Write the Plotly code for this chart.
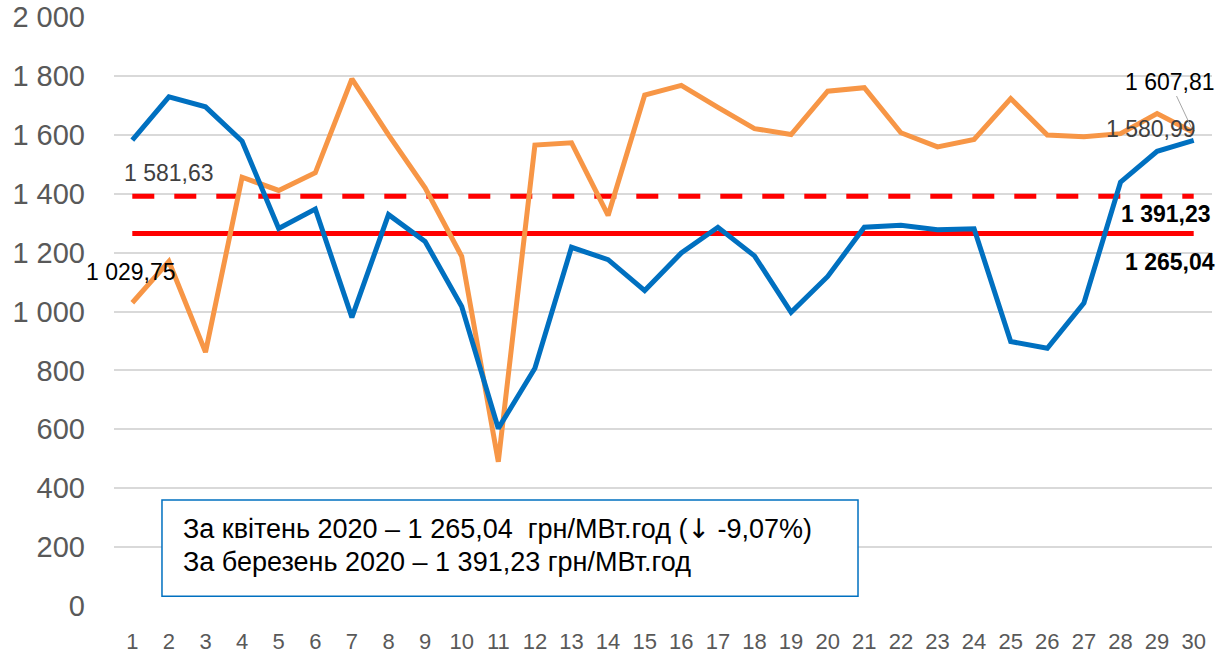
import plotly.graph_objects as go

days = list(range(1, 31))
april = [1581.63, 1729, 1695, 1578, 1282, 1348, 980, 1329, 1238, 1017,
         603, 807, 1218, 1176, 1071, 1199, 1286, 1189, 997, 1119,
         1286, 1293, 1278, 1281, 898, 875, 1029, 1439, 1544, 1580.99]
march = [1029.75, 1170, 862, 1456, 1411, 1471, 1790, 1600, 1420, 1187,
         490, 1565, 1573, 1326, 1735, 1768, 1693, 1621, 1601, 1748,
         1760, 1607, 1559, 1584, 1723, 1599, 1593, 1604, 1672, 1607.81]
avg_april = 1265.04
avg_march = 1391.23
y_ticks = [0, 200, 400, 600, 800, 1000, 1200, 1400, 1600, 1800, 2000]
y_tick_text = ["0", "200", "400", "600", "800", "1 000", "1 200", "1 400", "1 600", "1 800", "2 000"]
box_lines = ["За квітень 2020 – 1 265,04  грн/МВт.год (<span style=\"font-family:'DejaVu Sans'\">↓</span> -9,07%)",
             "За березень 2020 – 1 391,23 грн/МВт.год"]

BLUE = "#0070C0"
ORANGE = "#F79646"
RED = "#FF0000"
FONT = "Liberation Sans"
LS = 23  # data label size

def fmt(v):
    return f"{v:,.2f}".replace(",", " ").replace(".", ",")

fig = go.Figure()
fig.add_trace(go.Scatter(x=days, y=[avg_march] * len(days), mode="lines",
                         line=dict(color=RED, width=5, dash="22px,20px"), hoverinfo="skip"))
fig.add_trace(go.Scatter(x=days, y=[avg_april] * len(days), mode="lines",
                         line=dict(color=RED, width=5), hoverinfo="skip"))
fig.add_trace(go.Scatter(x=days, y=march, mode="lines",
                         line=dict(color=ORANGE, width=5)))
fig.add_trace(go.Scatter(x=days, y=april, mode="lines",
                         line=dict(color=BLUE, width=5)))

def lab(x, y, text, xs, ys, color):
    fig.add_annotation(x=x, y=y, text=text, xshift=xs, yshift=ys, showarrow=False,
                       xref="x", yref="y", font=dict(family=FONT, size=LS, color=color))

lab(days[0], april[0], fmt(april[0]), 37, -33, "#404040")
lab(days[0], march[0], fmt(march[0]), -1, 31, "#000000")
lab(days[-1], april[-1], fmt(april[-1]), -43, 11, "#404040")
lab(days[-1], avg_march, "<b>" + fmt(avg_march) + "</b>", -28, -18, "#000000")
lab(days[-1], avg_april, "<b>" + fmt(avg_april) + "</b>", -24, -29, "#000000")
fig.add_annotation(x=days[-1], y=march[-1], text=fmt(march[-1]), xref="x", yref="y",
                   showarrow=True, arrowhead=0, arrowwidth=1, arrowcolor="#A6A6A6",
                   ax=-24, ay=-51, standoff=5,
                   font=dict(family=FONT, size=LS, color="#000000"))

# text box
fig.add_shape(type="rect", xref="paper", yref="paper", x0=0.0437, x1=0.6776, y0=0.0165, y1=0.18,
              line=dict(color=BLUE, width=1.5), fillcolor="white", layer="above")
for line, py in zip(box_lines, [528, 562]):
    fig.add_annotation(xref="paper", yref="paper", x=0.061, y=(605.7 - py) / 588,
                       xanchor="left", yanchor="middle", text=line, showarrow=False,
                       font=dict(family=FONT, size=27, color="#000000"))

fig.update_layout(
    width=1225, height=654,
    margin=dict(l=114, r=13, t=17, b=48),
    paper_bgcolor="white", plot_bgcolor="white",
    showlegend=False,
    xaxis=dict(type="linear", range=[0.5, 30.5], tickmode="array", tickvals=days,
               ticktext=[str(d) for d in days], showgrid=False, zeroline=False, showline=False,
               ticks="", ticklabelstandoff=20, automargin=False,
               tickfont=dict(family=FONT, size=22, color="#595959")),
    yaxis=dict(range=[0, 2000], tickmode="array", tickvals=y_ticks, ticktext=y_tick_text,
               showgrid=True, gridcolor="#D9D9D9", gridwidth=1.5, zeroline=False,
               showline=False, ticks="", ticklabelstandoff=28, automargin=False,
               tickfont=dict(family=FONT, size=29, color="#595959")),
)

fig.write_html("out.html", config={"displayModeBar": False},
               post_script="document.body.style.margin='0';document.body.style.overflow='hidden';")
